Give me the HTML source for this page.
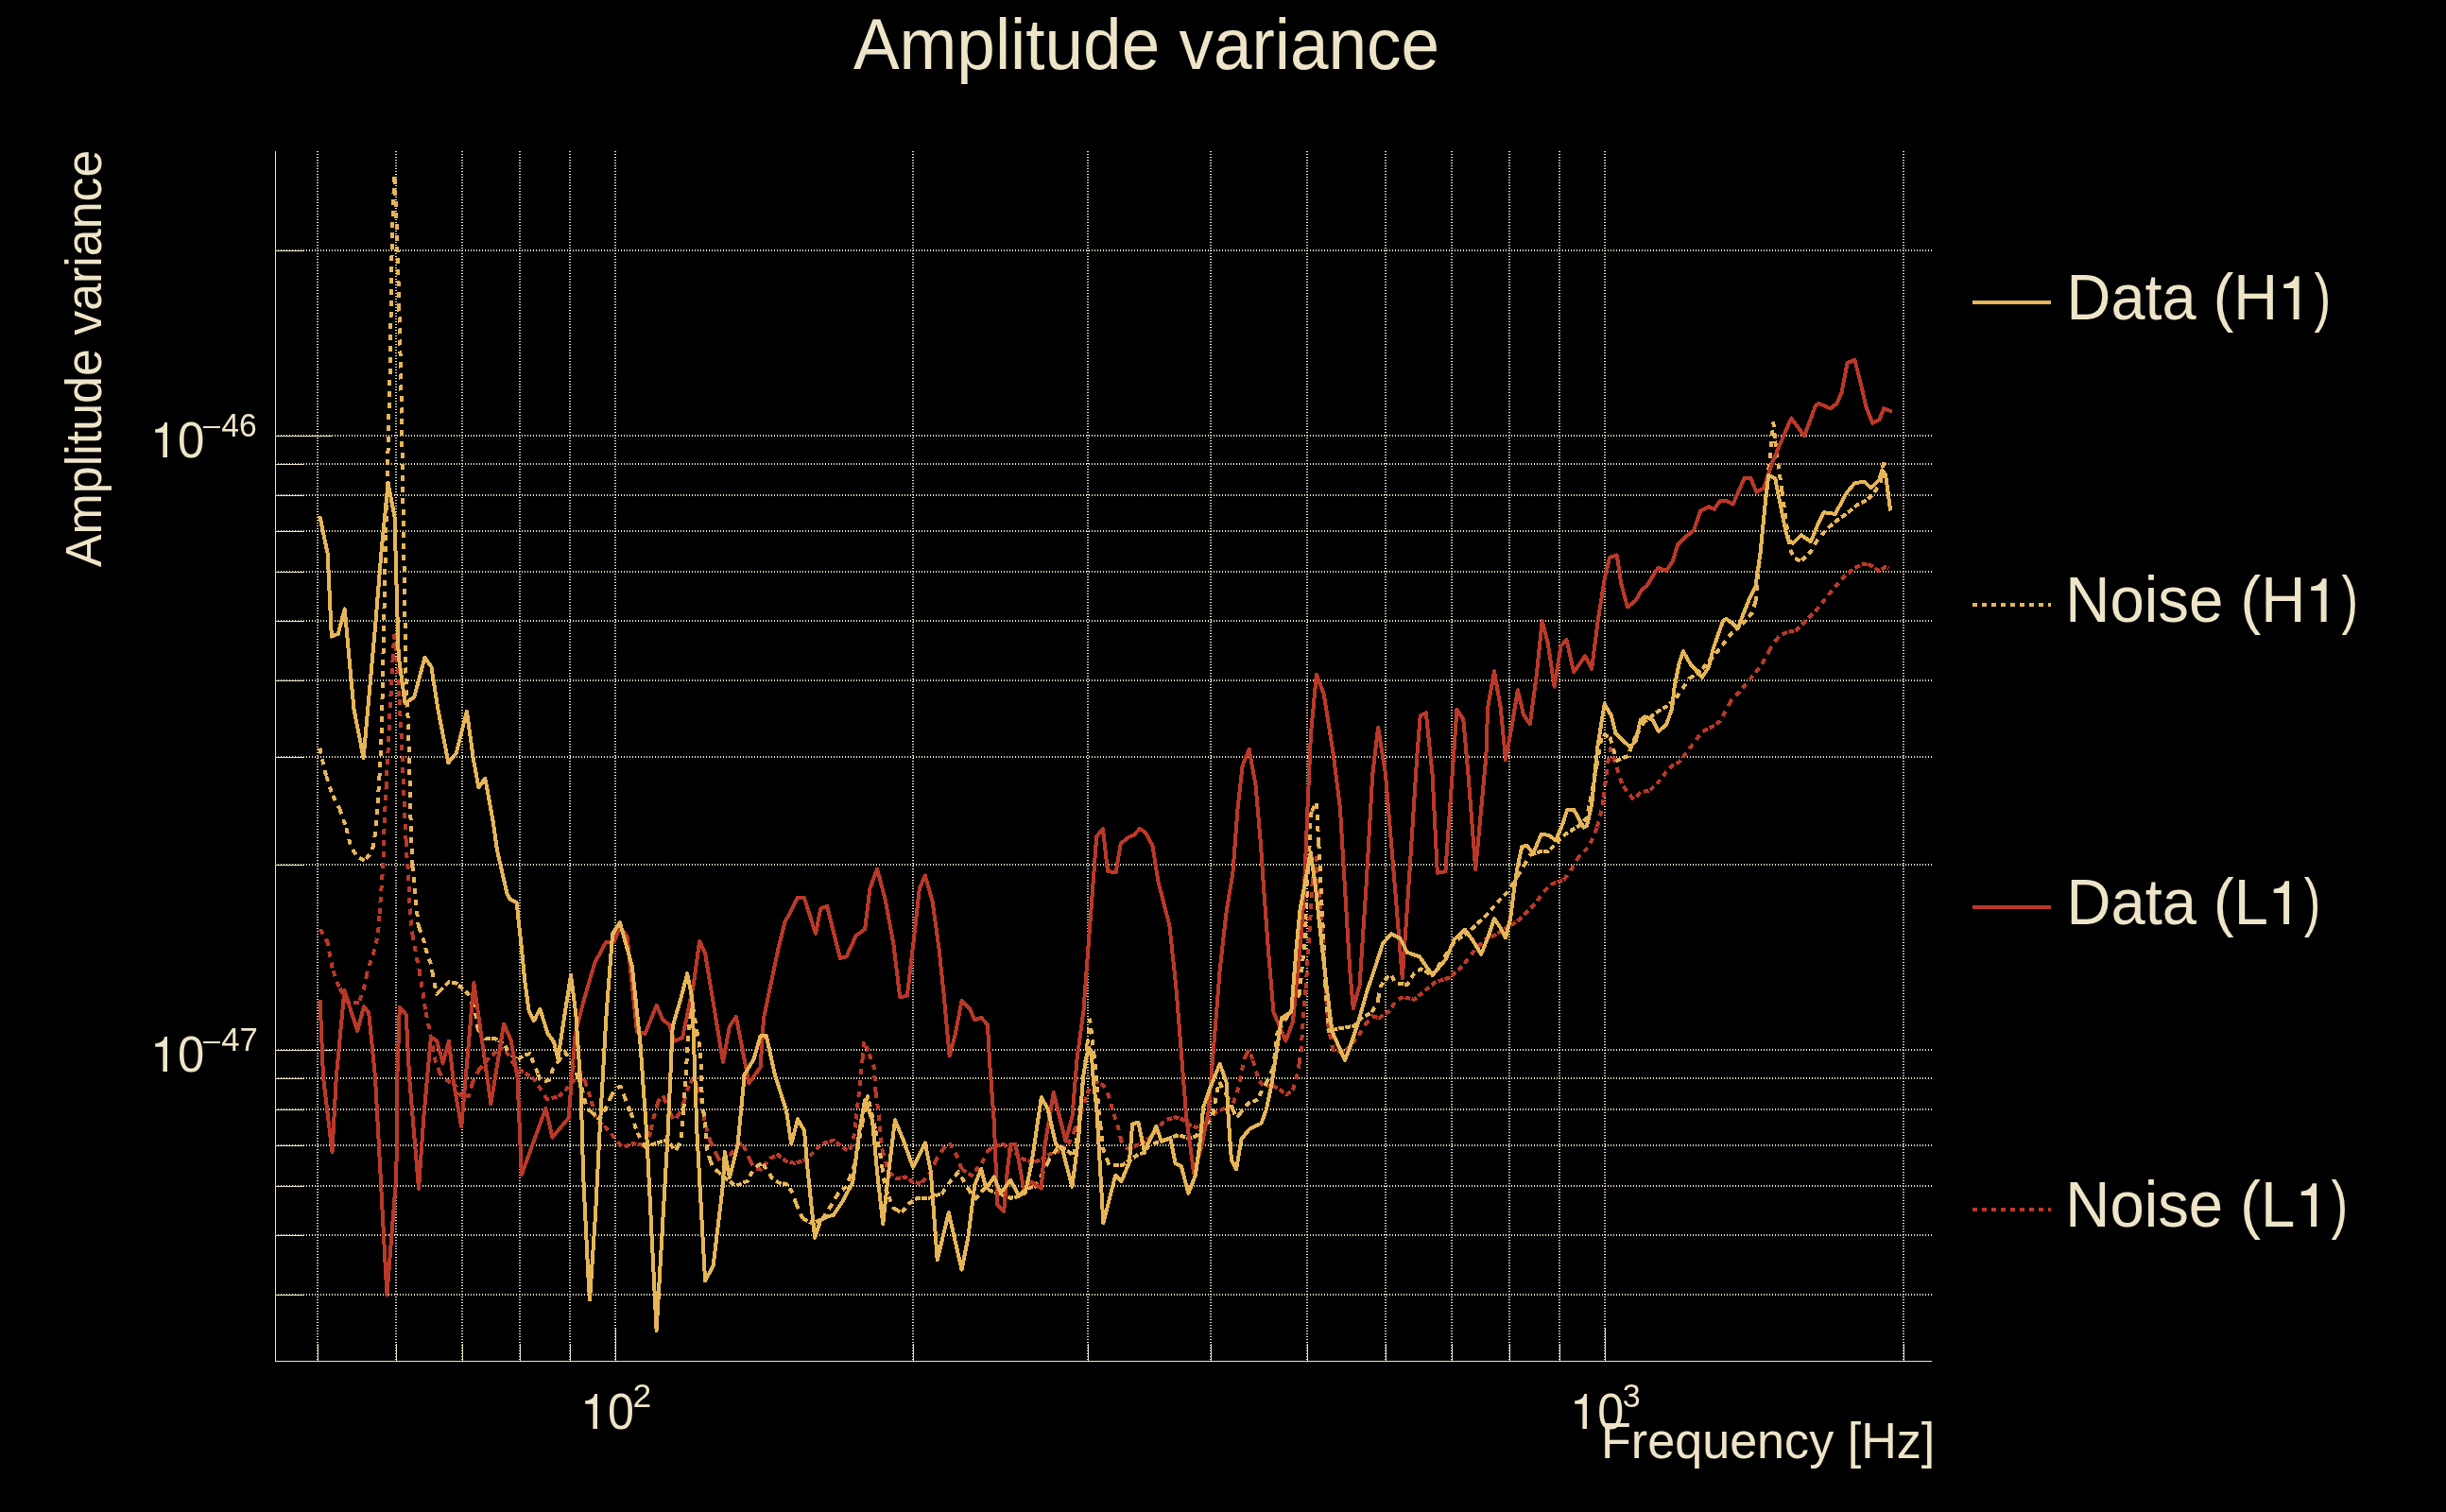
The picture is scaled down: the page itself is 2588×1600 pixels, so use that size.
<!DOCTYPE html>
<html><head><meta charset="utf-8"><style>
html,body{margin:0;padding:0;background:#000;width:2588px;height:1600px;overflow:hidden}
svg{display:block;will-change:transform}
</style></head><body>
<svg xmlns="http://www.w3.org/2000/svg" width="2588" height="1600" viewBox="0 0 2588 1600">
<rect width="2588" height="1600" fill="#000"/>
<g stroke="#EEE4C8" stroke-width="2" stroke-dasharray="1 2" shape-rendering="crispEdges"><line x1="336" y1="160" x2="336" y2="1440"/><line x1="419" y1="160" x2="419" y2="1440"/><line x1="489" y1="160" x2="489" y2="1440"/><line x1="550" y1="160" x2="550" y2="1440"/><line x1="603" y1="160" x2="603" y2="1440"/><line x1="651" y1="160" x2="651" y2="1440"/><line x1="966" y1="160" x2="966" y2="1440"/><line x1="1151" y1="160" x2="1151" y2="1440"/><line x1="1281" y1="160" x2="1281" y2="1440"/><line x1="1383" y1="160" x2="1383" y2="1440"/><line x1="1466" y1="160" x2="1466" y2="1440"/><line x1="1536" y1="160" x2="1536" y2="1440"/><line x1="1597" y1="160" x2="1597" y2="1440"/><line x1="1650" y1="160" x2="1650" y2="1440"/><line x1="1698" y1="160" x2="1698" y2="1440"/><line x1="2014" y1="160" x2="2014" y2="1440"/><line x1="291" y1="1370" x2="2044" y2="1370"/><line x1="291" y1="1307" x2="2044" y2="1307"/><line x1="291" y1="1255" x2="2044" y2="1255"/><line x1="291" y1="1212" x2="2044" y2="1212"/><line x1="291" y1="1174" x2="2044" y2="1174"/><line x1="291" y1="1141" x2="2044" y2="1141"/><line x1="291" y1="1111" x2="2044" y2="1111"/><line x1="291" y1="915" x2="2044" y2="915"/><line x1="291" y1="801" x2="2044" y2="801"/><line x1="291" y1="720" x2="2044" y2="720"/><line x1="291" y1="657" x2="2044" y2="657"/><line x1="291" y1="605" x2="2044" y2="605"/><line x1="291" y1="562" x2="2044" y2="562"/><line x1="291" y1="524" x2="2044" y2="524"/><line x1="291" y1="491" x2="2044" y2="491"/><line x1="291" y1="461" x2="2044" y2="461"/><line x1="291" y1="265" x2="2044" y2="265"/></g><g stroke="#EEE4C8" stroke-width="1" shape-rendering="crispEdges"><line x1="291.5" y1="160" x2="291.5" y2="1441"/><line x1="291" y1="1440.5" x2="2044" y2="1440.5"/><line x1="291" y1="1370.5" x2="321" y2="1370.5"/><line x1="291" y1="1307.5" x2="321" y2="1307.5"/><line x1="291" y1="1255.5" x2="321" y2="1255.5"/><line x1="291" y1="1212.5" x2="321" y2="1212.5"/><line x1="291" y1="1174.5" x2="321" y2="1174.5"/><line x1="291" y1="1141.5" x2="321" y2="1141.5"/><line x1="291" y1="1111.5" x2="351" y2="1111.5"/><line x1="291" y1="915.5" x2="321" y2="915.5"/><line x1="291" y1="801.5" x2="321" y2="801.5"/><line x1="291" y1="720.5" x2="321" y2="720.5"/><line x1="291" y1="657.5" x2="321" y2="657.5"/><line x1="291" y1="605.5" x2="321" y2="605.5"/><line x1="291" y1="562.5" x2="321" y2="562.5"/><line x1="291" y1="524.5" x2="321" y2="524.5"/><line x1="291" y1="491.5" x2="321" y2="491.5"/><line x1="291" y1="461.5" x2="351" y2="461.5"/><line x1="291" y1="265.5" x2="321" y2="265.5"/><line x1="336.5" y1="1440" x2="336.5" y2="1422"/><line x1="419.5" y1="1440" x2="419.5" y2="1422"/><line x1="489.5" y1="1440" x2="489.5" y2="1422"/><line x1="550.5" y1="1440" x2="550.5" y2="1422"/><line x1="603.5" y1="1440" x2="603.5" y2="1422"/><line x1="651.5" y1="1440" x2="651.5" y2="1405"/><line x1="966.5" y1="1440" x2="966.5" y2="1422"/><line x1="1151.5" y1="1440" x2="1151.5" y2="1422"/><line x1="1281.5" y1="1440" x2="1281.5" y2="1422"/><line x1="1383.5" y1="1440" x2="1383.5" y2="1422"/><line x1="1466.5" y1="1440" x2="1466.5" y2="1422"/><line x1="1536.5" y1="1440" x2="1536.5" y2="1422"/><line x1="1597.5" y1="1440" x2="1597.5" y2="1422"/><line x1="1650.5" y1="1440" x2="1650.5" y2="1422"/><line x1="1698.5" y1="1440" x2="1698.5" y2="1405"/><line x1="2014.5" y1="1440" x2="2014.5" y2="1422"/></g><g fill="none" stroke-width="4" stroke-linejoin="round" shape-rendering="crispEdges"><path d="M338.6 983.4L345.6 995.1M345.6 995.1L346.3 996.3L348.9 1010.0L351.5 1023.8L352.6 1027.3M352.6 1027.3L355.8 1037.5L359.6 1045.9M359.6 1045.9L360.1 1047.0L366.6 1058.5M366.6 1058.5L368.0 1061.0L373.6 1060.9M373.6 1060.9L379.9 1060.7L380.6 1058.7M380.6 1058.7L385.0 1046.0L387.6 1033.6M387.6 1033.6L389.3 1025.5L393.6 1013.5L394.6 1010.1M394.6 1010.1L397.9 998.8L400.5 982.5L401.6 967.0M401.6 967.0L402.2 958.5L403.9 934.4L405.2 917.0L407.0 864.2L408.6 832.9M408.6 832.9L409.7 811.3L412.3 758.4L415.0 708.0L415.6 697.8M415.6 697.8L417.1 672.4L420.3 700.2L422.6 740.0M422.6 740.0L422.9 745.2L425.6 798.0L427.7 851.0L429.6 889.7M429.6 889.7L430.3 904.0L432.3 925.8L433.1 949.9L434.9 974.0L436.6 989.4M436.6 989.4L438.3 999.7L440.9 1013.5L443.2 1024.2L443.6 1026.8M443.6 1026.8L445.3 1038.0L447.4 1049.6L449.0 1062.3L450.6 1071.2M450.6 1071.2L451.1 1074.0L453.8 1086.7L457.6 1106.8M457.6 1106.8L461.2 1125.8L464.6 1133.2M464.6 1133.2L467.5 1139.6L471.6 1142.3M471.6 1142.3L473.9 1143.8L478.6 1146.8M478.6 1146.8L482.3 1149.1L485.6 1156.4M485.6 1156.4L486.6 1158.6L492.6 1159.3M492.6 1159.3L496.1 1159.7L499.6 1147.4M499.6 1147.4L500.3 1144.9L506.6 1132.4M506.6 1132.4L506.7 1132.2L513.6 1124.0M513.6 1124.0L518.3 1118.4L520.6 1116.5M520.6 1116.5L527.6 1110.8M527.6 1110.8L530.0 1108.9L534.6 1112.8M534.6 1112.8L537.4 1115.2L541.6 1122.6M541.6 1122.6L545.8 1130.0L548.6 1131.6M548.6 1131.6L555.3 1135.3L555.6 1135.5M555.6 1135.5L562.6 1140.2M562.6 1140.2L564.9 1141.7L569.6 1148.8M569.6 1148.8L571.2 1151.2L576.6 1159.7M576.6 1159.7L578.6 1162.9L583.6 1162.0M583.6 1162.0L590.3 1160.7L590.6 1160.4M590.6 1160.4L597.6 1154.3M597.6 1154.3L598.7 1153.3L604.6 1146.2M604.6 1146.2L611.6 1137.9M611.6 1137.9L614.6 1134.3L618.6 1143.9M618.6 1143.9L619.9 1147.0L624.1 1159.7L625.6 1165.1M625.6 1165.1L627.5 1172.0L630.9 1185.8L632.6 1186.9M632.6 1186.9L639.5 1191.3L639.6 1191.4M639.6 1191.4L646.6 1199.5M646.6 1199.5L649.9 1203.3L653.6 1208.2M653.6 1208.2L658.4 1214.5L660.6 1213.6M660.6 1213.6L667.6 1210.7M667.6 1210.7L668.8 1210.2L674.6 1210.7M674.6 1210.7L677.4 1211.0L681.6 1213.1M681.6 1213.1L682.5 1213.6L687.7 1199.9L688.6 1195.8M688.6 1195.8L691.1 1184.4L695.6 1168.0M695.6 1168.0L696.3 1165.5L701.4 1158.6L702.6 1161.8M702.6 1161.8L706.6 1172.3L709.6 1178.3M709.6 1178.3L713.5 1186.1L716.6 1181.4M716.6 1181.4L720.3 1175.8L723.6 1166.1M723.6 1166.1L723.8 1165.5L727.2 1153.4L730.6 1146.5M730.6 1146.5L734.1 1139.4L737.6 1150.7M737.6 1150.7L742.7 1167.2L744.6 1179.7M744.6 1179.7L746.1 1189.5L751.3 1206.7L751.6 1207.4M751.6 1207.4L758.2 1222.2L758.6 1222.9M758.6 1222.9L765.0 1234.2L765.6 1233.3M765.6 1233.3L771.9 1223.9L772.6 1222.7M772.6 1222.7L778.8 1211.9L779.6 1211.7M779.6 1211.7L785.7 1210.2L786.6 1212.3M786.6 1212.3L790.8 1222.2L793.6 1227.8M793.6 1227.8L797.7 1236.0L800.6 1236.7M800.6 1236.7L804.6 1237.7L807.6 1234.2M807.6 1234.2L814.6 1226.0M814.6 1226.0L814.9 1225.6L821.6 1223.0M821.6 1223.0L823.5 1222.2L828.6 1226.3M828.6 1226.3L832.1 1229.1L835.6 1229.8M835.6 1229.8L840.7 1230.8L842.6 1230.3M842.6 1230.3L849.6 1228.3M849.6 1228.3L852.7 1227.4L856.6 1223.5M856.6 1223.5L861.3 1218.8L863.6 1216.5M863.6 1216.5L869.9 1210.2L870.6 1210.0M870.6 1210.0L877.6 1208.0M877.6 1208.0L881.9 1206.7L884.6 1208.7M884.6 1208.7L890.3 1212.8L891.6 1213.8M891.6 1213.8L897.2 1218.0L898.6 1216.1M898.6 1216.1L902.3 1211.1L904.1 1197.4L905.6 1184.5M905.6 1184.5L907.5 1168.1L911.8 1128.6L912.6 1120.4M912.6 1120.4L914.4 1101.8L919.6 1115.3M919.6 1115.3L924.7 1128.6L926.4 1154.4L926.6 1155.9M926.6 1155.9L929.9 1180.2L933.3 1216.3L933.6 1217.3M933.6 1217.3L940.2 1240.3L940.6 1240.6M940.6 1240.6L947.6 1246.2M947.6 1246.2L948.8 1247.2L954.6 1246.1M954.6 1246.1L957.4 1245.5L961.6 1248.0M961.6 1248.0L966.0 1250.7L968.6 1251.2M968.6 1251.2L974.5 1252.4L975.6 1251.1M975.6 1251.1L982.6 1243.0M982.6 1243.0L984.9 1240.3L989.6 1229.7M989.6 1229.7L991.7 1224.9L996.6 1218.0M996.6 1218.0L1000.3 1212.8L1003.6 1211.7M1003.6 1211.7L1005.5 1211.1L1010.6 1220.0M1010.6 1220.0L1012.4 1223.1L1017.5 1236.9L1017.6 1237.0M1017.6 1237.0L1024.6 1241.7M1024.6 1241.7L1027.8 1243.8L1031.6 1239.4M1031.6 1239.4L1038.2 1231.7L1038.6 1230.9M1038.6 1230.9L1045.0 1218.0L1045.6 1217.5M1045.6 1217.5L1051.9 1212.8L1052.6 1212.7M1052.6 1212.7L1059.6 1211.5M1059.6 1211.5L1062.2 1211.1L1066.6 1214.4M1066.6 1214.4L1073.6 1219.6M1073.6 1219.6L1080.6 1224.9M1080.6 1224.9L1082.9 1226.6L1087.6 1228.2M1087.6 1228.2L1093.2 1230.0L1094.6 1229.5M1094.6 1229.5L1101.6 1227.2M1101.6 1227.2L1103.5 1226.6L1108.6 1222.8M1108.6 1222.8L1110.4 1221.4L1115.6 1219.7M1115.6 1219.7L1120.7 1218.0L1122.6 1216.4M1122.6 1216.4L1129.6 1210.6M1129.6 1210.6L1131.0 1209.4L1136.6 1196.8M1136.6 1196.8L1137.9 1193.9L1143.6 1178.1M1143.6 1178.1L1144.7 1175.0L1150.6 1157.4M1150.6 1157.4L1151.6 1154.4L1157.6 1145.4M1157.6 1145.4L1158.5 1144.1L1164.6 1147.1M1164.6 1147.1L1167.4 1148.5L1171.6 1156.8M1171.6 1156.8L1172.7 1159.0L1178.6 1178.9M1178.6 1178.9L1179.0 1180.2L1183.3 1194.0L1185.6 1203.8M1185.6 1203.8L1186.5 1207.7L1192.6 1214.9M1192.6 1214.9L1192.8 1215.1L1199.6 1213.2M1199.6 1213.2L1200.2 1213.0L1206.6 1210.5M1206.6 1210.5L1210.8 1208.8L1213.6 1206.2M1213.6 1206.2L1220.6 1199.8M1220.6 1199.8L1223.5 1197.1L1227.6 1191.5M1227.6 1191.5L1232.0 1185.5L1234.6 1184.8M1234.6 1184.8L1241.6 1182.9M1241.6 1182.9L1243.6 1182.3L1248.6 1183.7M1248.6 1183.7L1251.0 1184.4L1255.6 1188.2M1255.6 1188.2L1257.4 1189.7L1262.6 1191.7M1262.6 1191.7L1265.8 1192.9L1269.6 1191.7M1269.6 1191.7L1272.2 1190.8L1276.6 1186.9M1276.6 1186.9L1281.7 1182.3L1283.6 1180.4M1283.6 1180.4L1287.0 1177.0L1290.6 1175.2M1290.6 1175.2L1295.4 1172.8L1297.6 1172.5M1297.6 1172.5L1302.9 1171.7L1304.6 1167.5M1304.6 1167.5L1308.1 1159.0L1310.3 1150.6L1311.6 1144.4M1311.6 1144.4L1313.0 1137.7L1316.4 1120.5L1318.6 1116.1M1318.6 1116.1L1321.6 1110.2L1325.6 1122.1M1325.6 1122.1L1326.8 1125.7L1331.9 1142.9L1332.6 1143.8M1332.6 1143.8L1337.1 1149.7L1339.6 1149.2M1339.6 1149.2L1345.7 1148.0L1346.6 1148.5M1346.6 1148.5L1353.6 1152.8M1353.6 1152.8L1354.3 1153.2L1360.6 1157.9M1360.6 1157.9L1361.1 1158.3L1367.6 1153.5M1367.6 1153.5L1368.0 1153.2L1373.2 1134.3L1374.6 1125.1M1374.6 1125.1L1376.6 1111.9L1378.3 1086.1L1381.6 1045.6M1381.6 1045.6L1381.8 1043.1L1385.0 992.6L1387.4 956.9L1388.6 934.3M1388.6 934.3L1392.7 908.1L1395.6 943.8M1395.6 943.8L1395.7 945.0L1398.1 974.8L1399.9 995.0L1401.9 1035.6L1402.6 1046.4M1402.6 1046.4L1403.7 1063.3L1405.6 1086.5L1408.3 1100.4L1409.6 1106.9M1409.6 1106.9L1411.1 1114.3L1416.6 1113.1M1416.6 1113.1L1423.6 1111.6M1423.6 1111.6L1424.1 1111.5L1430.6 1104.0M1430.6 1104.0L1437.0 1096.7L1437.6 1095.7M1437.6 1095.7L1443.5 1085.6L1444.6 1084.3M1444.6 1084.3L1451.6 1075.8M1451.6 1075.8L1451.9 1075.4L1458.6 1077.0M1458.6 1077.0L1459.3 1077.2L1465.6 1073.0M1465.6 1073.0L1470.4 1069.8L1472.6 1066.0M1472.6 1066.0L1476.9 1058.7L1479.6 1057.5M1479.6 1057.5L1485.2 1055.0L1486.6 1055.4M1486.6 1055.4L1493.6 1057.1M1493.6 1057.1L1496.3 1057.8L1500.6 1054.2M1500.6 1054.2L1507.4 1048.5L1507.6 1048.3M1507.6 1048.3L1514.6 1042.5M1514.6 1042.5L1518.5 1039.3L1521.6 1038.3M1521.6 1038.3L1528.6 1036.1M1528.6 1036.1L1533.3 1034.6L1535.6 1032.6M1535.6 1032.6L1542.6 1026.5M1542.6 1026.5L1548.1 1021.7L1549.6 1019.7M1549.6 1019.7L1556.6 1010.1M1556.6 1010.1L1558.3 1007.8L1563.6 1002.0M1563.6 1002.0L1570.6 994.4M1570.6 994.4L1570.7 994.3L1577.6 991.3M1577.6 991.3L1582.7 989.1L1584.6 987.8M1584.6 987.8L1591.6 983.1M1591.6 983.1L1593.0 982.2L1598.6 979.0M1598.6 979.0L1605.0 975.3L1605.6 974.7M1605.6 974.7L1612.6 967.7M1612.6 967.7L1615.3 965.0L1619.6 960.7M1619.6 960.7L1625.7 954.7L1626.6 953.3M1626.6 953.3L1632.5 944.4L1633.6 943.3M1633.6 943.3L1640.6 936.3M1640.6 936.3L1641.1 935.8L1647.6 933.4M1647.6 933.4L1654.6 930.8M1654.6 930.8L1654.9 930.7L1661.6 921.3M1661.6 921.3L1663.5 918.6L1668.6 909.7M1668.6 909.7L1670.4 906.6L1675.6 901.4M1675.6 901.4L1680.7 896.3L1682.6 892.5M1682.6 892.5L1685.8 886.0L1689.6 875.1M1689.6 875.1L1691.7 869.0L1695.2 854.8L1696.6 843.7M1696.6 843.7L1698.2 831.0L1701.2 807.1L1703.6 795.3M1703.6 795.3L1704.2 792.3L1710.6 812.1M1710.6 812.1L1716.7 831.0L1717.6 832.2M1717.6 832.2L1724.6 841.2M1724.6 841.2L1728.6 846.4L1731.6 842.9M1731.6 842.9L1735.7 838.1L1738.6 837.7M1738.6 837.7L1745.2 836.9L1745.6 836.5M1745.6 836.5L1752.6 829.6M1752.6 829.6L1754.8 827.4L1759.6 821.2M1759.6 821.2L1763.1 816.7L1766.6 813.1M1766.6 813.1L1769.9 809.7L1773.6 807.9M1773.6 807.9L1776.7 806.3L1780.6 801.4M1780.6 801.4L1786.2 794.3L1787.6 792.4M1787.6 792.4L1793.1 784.8L1794.6 782.8M1794.6 782.8L1800.8 774.5L1801.6 774.1M1801.6 774.1L1808.6 770.6M1808.6 770.6L1811.1 769.3L1815.6 766.2M1815.6 766.2L1819.7 763.3L1822.6 757.9M1822.6 757.9L1825.7 752.1L1829.6 744.9M1829.6 744.9L1831.7 741.0L1836.6 736.1M1836.6 736.1L1840.3 732.4L1843.6 728.3M1843.6 728.3L1850.6 719.6M1850.6 719.6L1850.7 719.5L1857.5 711.7L1857.6 711.6M1857.6 711.6L1864.4 703.1L1864.6 702.7M1864.6 702.7L1869.6 692.8L1871.6 689.3M1871.6 689.3L1876.4 680.8L1878.6 678.1M1878.6 678.1L1883.3 672.2L1885.6 671.3M1885.6 671.3L1891.9 668.8L1892.6 668.7M1892.6 668.7L1899.6 667.2M1899.6 667.2L1900.5 667.0L1906.6 660.9M1906.6 660.9L1909.1 658.4L1913.6 653.9M1913.6 653.9L1920.6 646.9M1920.6 646.9L1921.1 646.4L1927.6 638.3M1927.6 638.3L1928.0 637.8L1934.6 629.6M1934.6 629.6L1934.9 629.2L1941.6 621.2M1941.6 621.2L1943.5 618.9L1948.6 613.2M1948.6 613.2L1952.1 609.3L1955.6 606.5M1955.6 606.5L1960.7 602.4L1962.6 601.3M1962.6 601.3L1969.3 597.2L1969.6 597.2M1969.6 597.2L1976.1 596.4L1976.6 596.7M1976.6 596.7L1983.0 600.7L1983.6 601.1M1983.6 601.1L1988.2 604.1L1990.6 602.6M1990.6 602.6L1995.1 599.8L1997.6 600.5M1997.6 600.5L1998.5 600.7" stroke="#BA3828" stroke-dasharray="6 6"/><path d="M338.3 791.7L343.9 816.7L345.3 821.2M345.3 821.2L350.8 838.9L352.3 841.9M352.3 841.9L359.2 855.6L359.3 855.9M359.3 855.9L366.0 875.0L366.3 876.2M366.3 876.2L371.3 896.0L373.3 899.2M373.3 899.2L378.0 906.6L380.3 907.7M380.3 907.7L385.9 910.5L387.3 908.8M387.3 908.8L393.8 901.0L394.3 898.0M394.3 898.0L397.8 877.0L400.4 838.0L401.3 824.2M401.3 824.2L403.0 798.0L404.4 745.0L407.0 620.0L408.3 564.3M408.3 564.3L408.4 560.0L410.0 500.0L411.4 437.8L412.5 400.0L413.6 330.0L414.6 265.0L415.3 240.9M415.3 240.9L416.2 210.0L417.5 185.0L418.6 210.0L420.5 265.0L422.3 323.5M422.3 323.5L422.5 330.0L424.1 400.0L425.0 437.8L425.8 493.3L426.9 560.0L429.3 706.5M429.3 706.5L429.5 718.7L432.2 771.6L433.5 824.6L434.8 877.5L436.1 914.5L436.3 916.0M436.3 916.0L437.4 924.0L439.2 949.9L440.9 961.9L442.6 979.0L443.3 981.0M443.3 981.0L448.6 996.3L450.3 1003.0M450.3 1003.0L452.1 1010.0L455.9 1020.0L457.3 1028.1M457.3 1028.1L459.0 1038.0L462.2 1051.7L464.3 1049.6M464.3 1049.6L471.3 1042.6M471.3 1042.6L474.9 1039.0L478.3 1039.5M478.3 1039.5L482.3 1040.1L485.3 1042.7M485.3 1042.7L489.7 1046.5L492.3 1049.1M492.3 1049.1L495.0 1051.7L499.3 1060.9M499.3 1060.9L502.4 1067.6L505.6 1088.8L506.3 1089.7M506.3 1089.7L513.3 1098.4M513.3 1098.4L514.1 1099.4L520.3 1099.4M520.3 1099.4L524.7 1099.4L527.3 1101.0M527.3 1101.0L533.1 1104.7L534.3 1106.7M534.3 1106.7L539.5 1115.2L541.3 1116.6M541.3 1116.6L548.0 1121.6L548.3 1121.3M548.3 1121.3L554.3 1116.3L555.3 1116.1M555.3 1116.1L560.6 1115.2L562.3 1119.3M562.3 1119.3L565.9 1127.9L569.3 1136.8M569.3 1136.8L571.2 1141.7L576.3 1143.4M576.3 1143.4L577.6 1143.8L580.7 1142.8L583.3 1135.7M583.3 1135.7L585.0 1131.1L590.3 1123.6M590.3 1123.6L597.3 1113.7M597.3 1113.7L597.7 1113.1L603.0 1121.6L604.3 1124.2M604.3 1124.2L609.3 1134.3L611.3 1139.1M611.3 1139.1L614.6 1147.0L618.3 1162.6M618.3 1162.6L620.6 1172.3L625.3 1176.4M625.3 1176.4L632.3 1182.6M632.3 1182.6L634.4 1184.4L639.3 1175.8M639.3 1175.8L641.3 1172.3L645.6 1162.0L646.3 1160.8M646.3 1160.8L651.6 1151.7L653.3 1151.0M653.3 1151.0L656.7 1149.7L660.3 1159.5M660.3 1159.5L661.9 1163.8L667.3 1177.3M667.3 1177.3L668.8 1181.0L673.9 1198.1L674.3 1198.8M674.3 1198.8L681.3 1211.4M681.3 1211.4L682.5 1213.6L688.3 1211.7M688.3 1211.7L692.8 1210.2L695.3 1209.4M695.3 1209.4L702.3 1207.0M702.3 1207.0L703.1 1206.7L708.3 1208.4L709.3 1210.1M709.3 1210.1L714.3 1218.8L716.3 1214.8M716.3 1214.8L720.3 1206.7L722.1 1189.5L723.3 1173.8M723.3 1173.8L723.8 1167.2L727.2 1112.0L730.3 1072.3M730.3 1072.3L731.5 1056.9L737.3 1090.5M737.3 1090.5L741.0 1112.0L742.7 1160.0L744.3 1175.5M744.3 1175.5L746.1 1193.0L747.8 1215.3L751.3 1227.4M751.3 1227.4L753.9 1234.2L758.3 1238.5M758.3 1238.5L765.0 1245.0L765.3 1245.2M765.3 1245.2L772.3 1250.2M772.3 1250.2L778.8 1254.9L779.3 1254.7M779.3 1254.7L786.3 1251.7M786.3 1251.7L790.8 1249.7L793.3 1244.7M793.3 1244.7L797.7 1236.0L800.3 1234.4M800.3 1234.4L806.3 1230.8L807.3 1232.2M807.3 1232.2L811.4 1237.7L814.3 1242.5M814.3 1242.5L816.6 1246.3L821.3 1249.8M821.3 1249.8L823.5 1251.4L828.3 1252.3M828.3 1252.3L832.1 1253.1L835.3 1257.4M835.3 1257.4L837.2 1260.0L842.3 1273.5M842.3 1273.5L842.4 1273.8L849.3 1289.2M849.3 1289.2L856.3 1293.0M856.3 1293.0L860.0 1295.0L863.3 1293.3M863.3 1293.3L870.0 1290.0L870.3 1289.5M870.3 1289.5L877.3 1278.8M877.3 1278.8L880.0 1274.7L884.3 1267.2M884.3 1267.2L886.9 1262.7L891.3 1259.2M891.3 1259.2L895.5 1255.8L898.3 1248.2M898.3 1248.2L905.0 1230.0L905.3 1228.3M905.3 1228.3L912.0 1190.0L912.3 1188.5M912.3 1188.5L918.0 1160.0L919.3 1165.4M919.3 1165.4L924.0 1185.0L926.3 1196.5M926.3 1196.5L931.6 1223.1L933.3 1234.6M933.3 1234.6L936.7 1257.5L940.3 1266.2M940.3 1266.2L945.3 1278.2L947.3 1279.4M947.3 1279.4L953.9 1283.3L954.3 1282.8M954.3 1282.8L961.3 1274.4M961.3 1274.4L962.5 1273.0L968.3 1269.5M968.3 1269.5L971.1 1267.8L975.3 1267.8M975.3 1267.8L982.3 1267.8M982.3 1267.8L983.1 1267.8L989.3 1265.5M989.3 1265.5L996.3 1262.9M996.3 1262.9L996.9 1262.7L1003.3 1253.1M1003.3 1253.1L1003.8 1252.4L1010.3 1244.8M1010.3 1244.8L1014.1 1240.3L1017.3 1245.8M1017.3 1245.8L1024.3 1257.7M1024.3 1257.7L1031.3 1269.6M1031.3 1269.6L1038.3 1261.4M1038.3 1261.4L1041.6 1257.5L1045.3 1258.9M1045.3 1258.9L1052.3 1261.5M1052.3 1261.5L1059.3 1264.1M1059.3 1264.1L1066.3 1266.8M1066.3 1266.8L1069.1 1267.8L1073.3 1267.0M1073.3 1267.0L1077.7 1266.1L1080.3 1263.5M1080.3 1263.5L1086.3 1257.5L1087.3 1257.3M1087.3 1257.3L1094.3 1255.9M1094.3 1255.9L1094.9 1255.8L1101.3 1244.7M1101.3 1244.7L1101.8 1243.8L1108.3 1230.8M1108.3 1230.8L1110.4 1226.6L1115.3 1220.0M1115.3 1220.0L1120.7 1212.8L1122.3 1213.6M1122.3 1213.6L1127.5 1216.3L1129.3 1217.7M1129.3 1217.7L1136.1 1223.1L1136.3 1221.9M1136.3 1221.9L1141.3 1192.2L1143.3 1172.1M1143.3 1172.1L1146.5 1140.0L1150.3 1106.1M1150.3 1106.1L1153.3 1079.4L1157.3 1114.5M1157.3 1114.5L1160.2 1140.0L1162.0 1171.6L1164.3 1190.1M1164.3 1190.1L1165.3 1198.2L1167.4 1216.2L1171.3 1227.0M1171.3 1227.0L1171.6 1227.8L1173.8 1233.1L1178.3 1233.1M1178.3 1233.1L1181.2 1233.1L1185.3 1233.1M1185.3 1233.1L1187.5 1233.1L1192.3 1229.8M1192.3 1229.8L1199.3 1225.0M1199.3 1225.0L1204.4 1221.5L1206.3 1221.0M1206.3 1221.0L1211.9 1219.4L1213.3 1216.1M1213.3 1216.1L1215.0 1212.0L1220.3 1210.2M1220.3 1210.2L1227.3 1207.9M1227.3 1207.9L1234.1 1205.6L1234.3 1205.5M1234.3 1205.5L1240.4 1203.5L1241.3 1203.1M1241.3 1203.1L1244.7 1201.4L1248.3 1202.0M1248.3 1202.0L1251.0 1202.4L1255.3 1203.7M1255.3 1203.7L1258.4 1204.6L1262.3 1203.3M1262.3 1203.3L1264.8 1202.4L1269.3 1197.9M1269.3 1197.9L1270.1 1197.1L1276.3 1189.9M1276.3 1189.9L1282.8 1182.3L1283.3 1179.5M1283.3 1179.5L1284.9 1170.7L1287.0 1158.0L1289.8 1144.6L1290.3 1145.5M1290.3 1145.5L1297.3 1158.2M1297.3 1158.2L1300.7 1164.3L1304.3 1173.6M1304.3 1173.6L1308.1 1183.4L1311.3 1179.2M1311.3 1179.2L1314.5 1174.9L1318.3 1170.4M1318.3 1170.4L1320.8 1167.5L1325.3 1165.8M1325.3 1165.8L1329.3 1164.3L1332.3 1159.4M1332.3 1159.4L1338.0 1150.0L1339.3 1147.1M1339.3 1147.1L1346.3 1131.5M1346.3 1131.5L1347.4 1129.1L1350.8 1094.7L1353.3 1090.4M1353.3 1090.4L1360.3 1078.5M1360.3 1078.5L1362.9 1074.1L1367.3 1065.9M1367.3 1065.9L1374.3 1052.8M1374.3 1052.8L1374.9 1051.7L1378.3 1017.4L1380.8 992.6L1381.3 972.8M1381.3 972.8L1381.4 968.8L1385.6 893.8L1385.6 881.9L1387.4 860.5L1388.3 858.5M1388.3 858.5L1392.7 848.6L1395.3 891.9M1395.3 891.9L1395.7 898.6L1396.9 923.6L1398.1 948.6L1399.3 974.8L1400.5 995.0L1402.3 1040.6M1402.3 1040.6L1402.4 1043.1L1405.6 1091.1L1409.3 1090.2M1409.3 1090.2L1416.3 1088.4M1416.3 1088.4L1416.7 1088.3L1423.1 1087.4L1423.3 1087.4M1423.3 1087.4L1430.3 1086.0M1430.3 1086.0L1432.4 1085.6L1437.3 1080.7M1437.3 1080.7L1441.7 1076.3L1444.3 1075.0M1444.3 1075.0L1450.9 1071.7L1451.3 1071.1M1451.3 1071.1L1457.4 1061.5L1458.3 1056.6M1458.3 1056.6L1460.6 1044.1L1463.9 1039.3L1465.3 1037.5M1465.3 1037.5L1470.9 1030.4L1472.3 1032.7M1472.3 1032.7L1476.9 1040.2L1479.3 1040.6M1479.3 1040.6L1486.3 1041.6M1486.3 1041.6L1488.9 1042.0L1493.3 1034.9M1493.3 1034.9L1496.3 1030.0L1500.3 1027.5M1500.3 1027.5L1503.7 1025.4L1507.3 1027.4M1507.3 1027.4L1514.3 1031.4M1514.3 1031.4L1515.6 1032.1L1521.3 1023.3M1521.3 1023.3L1528.3 1012.6M1528.3 1012.6L1535.3 1001.8M1535.3 1001.8L1538.9 996.3L1542.3 994.0M1542.3 994.0L1549.1 989.3L1549.3 989.1M1549.3 989.1L1556.3 983.6M1556.3 983.6L1560.3 980.5L1563.3 977.5M1563.3 977.5L1570.3 970.6M1570.3 970.6L1574.1 966.8L1577.3 963.1M1577.3 963.1L1584.3 955.1M1584.3 955.1L1586.1 953.0L1591.3 947.8M1591.3 947.8L1594.7 944.4L1598.3 938.6M1598.3 938.6L1605.3 927.5M1605.3 927.5L1611.9 916.9L1612.3 916.2M1612.3 916.2L1618.8 904.9L1619.3 904.7M1619.3 904.7L1626.3 902.4M1626.3 902.4L1629.1 901.4L1633.3 901.4M1633.3 901.4L1637.7 901.4L1640.3 898.8M1640.3 898.8L1647.3 891.8M1647.3 891.8L1654.3 884.8M1654.3 884.8L1656.6 882.5L1661.3 879.6M1661.3 879.6L1668.3 875.2M1668.3 875.2L1670.4 873.9L1675.3 869.0M1675.3 869.0L1679.0 865.3L1682.3 848.7M1682.3 848.7L1686.0 830.0L1689.3 810.7M1689.3 810.7L1695.2 776.2L1696.3 776.8M1696.3 776.8L1703.3 780.8M1703.3 780.8L1703.6 781.0L1710.3 803.5M1710.3 803.5L1710.7 804.8L1717.3 802.1M1717.3 802.1L1722.6 800.0L1724.3 795.4M1724.3 795.4L1730.0 780.0L1731.3 777.8M1731.3 777.8L1738.3 766.0M1738.3 766.0L1739.3 764.3L1745.3 759.7M1745.3 759.7L1752.3 754.3M1752.3 754.3L1754.8 752.4L1759.3 749.9M1759.3 749.9L1763.0 747.8L1766.3 745.2M1766.3 745.2L1771.6 741.0L1773.3 738.6M1773.3 738.6L1780.2 728.9L1780.3 728.7M1780.3 728.7L1787.0 718.6L1787.3 718.4M1787.3 718.4L1794.3 713.2M1794.3 713.2L1800.8 708.3L1801.3 707.7M1801.3 707.7L1808.3 699.6M1808.3 699.6L1811.1 696.3L1815.3 691.4M1815.3 691.4L1821.4 684.2L1822.3 683.0M1822.3 683.0L1829.3 673.7M1829.3 673.7L1831.7 670.5L1836.3 666.4M1836.3 666.4L1843.3 660.2M1843.3 660.2L1847.2 656.7L1850.3 652.8M1850.3 652.8L1854.1 648.1L1857.3 636.8M1857.3 636.8L1857.5 636.1L1859.2 620.6L1864.3 567.3M1864.3 567.3L1865.0 560.0L1871.0 500.0L1871.3 497.1M1871.3 497.1L1876.4 447.7L1878.3 466.6M1878.3 466.6L1879.0 473.5L1885.3 519.0M1885.3 519.0L1885.9 523.3L1889.3 547.4L1892.3 570.1M1892.3 570.1L1893.6 580.0L1897.9 590.4L1899.3 591.0M1899.3 591.0L1905.7 593.8L1906.3 593.2M1906.3 593.2L1913.3 586.2M1913.3 586.2L1916.0 583.5L1920.3 576.0M1920.3 576.0L1922.9 571.4L1927.3 566.3M1927.3 566.3L1933.2 559.4L1934.3 558.5M1934.3 558.5L1941.3 552.6M1941.3 552.6L1943.5 550.8L1948.3 547.4M1948.3 547.4L1955.3 542.3M1955.3 542.3L1955.5 542.2L1962.3 536.5M1962.3 536.5L1965.8 533.6L1969.3 531.9M1969.3 531.9L1976.1 528.5L1976.3 528.3M1976.3 528.3L1983.0 521.6L1983.3 521.1M1983.3 521.1L1989.9 509.6L1990.3 507.0M1990.3 507.0L1993.3 487.2" stroke="#E6B656" stroke-dasharray="6 6"/><polyline points="338.6,1058.2 342.0,1140.0 351.5,1219.0 355.8,1140.0 364.4,1047.8 370.4,1066.8 378.1,1090.8 385.0,1065.0 390.2,1072.0 397.0,1140.0 409.4,1370.4 419.4,1243.0 420.3,1140.0 422.8,1065.9 429.7,1073.6 433.1,1140.0 443.0,1257.8 448.5,1180.0 455.9,1097.2 462.2,1101.5 468.6,1124.8 474.9,1101.5 480.2,1147.0 488.2,1192.4 501.4,1040.1 519.4,1168.1 533.1,1083.5 540.5,1100.4 547.5,1140.0 551.8,1243.1 577.5,1172.7 584.4,1203.6 601.6,1183.0 608.6,1094.7 617.2,1060.3 629.2,1019.1 641.3,996.7 649.9,996.7 655.9,980.4 663.6,991.6 673.9,1091.3 682.5,1093.9 694.6,1063.8 701.4,1079.2 708.3,1084.4 713.5,1101.6 722.1,1098.2 734.1,1039.7 740.1,995.9 746.1,1008.8 765.0,1124.0 771.9,1086.1 778.8,1075.8 792.5,1146.3 804.6,1129.1 808.0,1077.5 823.5,1003.6 830.4,976.1 844.1,949.5 851.0,950.3 863.0,988.1 868.2,961.5 875.1,958.9 888.8,1013.9 895.5,1012.4 905.8,990.0 915.2,983.1 920.4,940.2 928.1,919.5 936.7,952.2 945.3,998.6 952.2,1055.4 959.9,1053.6 967.7,986.6 972.8,940.2 978.8,926.4 986.6,953.9 993.5,1003.8 998.6,1051.9 1004.6,1117.2 1010.7,1094.9 1017.5,1058.8 1026.1,1067.4 1031.3,1079.4 1038.2,1076.8 1045.0,1084.6 1046.8,1120.0 1051.9,1188.8 1055.3,1274.7 1062.2,1281.6 1065.7,1240.3 1069.1,1211.1 1074.3,1211.1 1077.7,1226.6 1082.9,1257.5 1091.4,1250.7 1101.8,1257.5 1105.2,1214.5 1114.7,1156.1 1120.7,1180.2 1127.5,1207.7 1134.4,1181.9 1139.6,1120.0 1146.5,1069.1 1151.6,1000.3 1156.8,931.6 1160.2,885.2 1166.9,877.1 1172.0,921.8 1180.6,923.5 1185.8,892.5 1194.4,885.7 1199.5,883.9 1205.6,877.1 1211.6,880.5 1219.3,894.3 1225.3,932.1 1237.4,979.5 1244.2,1043.1 1251.1,1129.1 1255.2,1182.3 1259.5,1214.1 1263.2,1241.6 1271.1,1214.1 1278.5,1177.0 1283.8,1111.9 1290.7,1026.0 1297.5,965.8 1304.4,923.5 1309.6,854.7 1314.7,810.0 1321.6,792.8 1328.5,830.7 1333.6,889.1 1337.1,940.0 1342.2,1008.8 1347.4,1070.7 1360.3,1101.6 1368.0,1081.0 1376.6,991.6 1380.0,940.0 1383.5,854.7 1386.9,777.4 1392.9,713.8 1400.7,734.4 1411.0,799.7 1417.9,854.7 1423.0,940.0 1428.2,1026.0 1431.8,1067.0 1438.5,1043.1 1445.4,940.0 1452.2,820.3 1458.1,769.7 1465.8,817.9 1474.4,920.3 1483.8,1035.5 1491.6,920.3 1499.3,800.0 1502.7,757.7 1508.8,754.3 1515.6,820.0 1520.8,923.8 1529.4,922.1 1538.0,800.0 1541.4,750.8 1548.3,761.1 1553.5,820.0 1561.2,920.3 1572.4,800.0 1574.1,749.1 1581.0,710.4 1587.8,749.1 1593.0,804.1 1599.9,766.3 1605.9,730.2 1611.9,756.0 1618.8,766.3 1625.7,714.7 1631.7,657.1 1637.7,680.3 1644.6,726.8 1651.4,683.8 1657.5,676.9 1665.2,711.3 1677.2,694.1 1684.1,707.8 1691.0,654.6 1697.9,611.6 1703.0,590.1 1710.8,587.5 1715.1,616.7 1721.9,642.5 1730.5,635.6 1737.4,623.6 1742.3,620.0 1754.4,600.7 1763.0,604.1 1769.9,593.8 1775.0,576.6 1783.6,568.0 1792.2,561.1 1799.1,540.5 1807.7,536.2 1813.7,538.8 1819.7,530.2 1826.6,530.2 1833.5,533.6 1845.5,506.1 1852.4,506.1 1858.4,520.7 1866.1,516.4 1874.7,490.7 1883.3,470.0 1895.3,442.5 1909.1,461.4 1921.1,428.8 1924.6,427.0 1936.6,432.2 1943.5,427.0 1948.6,415.0 1954.6,384.1 1962.4,380.6 1969.3,408.1 1974.4,430.5 1981.3,447.7 1988.2,444.2 1993.3,432.2 2001.9,435.6" stroke="#BA3828"/><polyline points="338.3,545.8 346.7,586.0 350.8,673.6 357.8,670.8 364.7,644.4 374.4,750.0 384.6,802.0 396.7,666.7 403.6,583.0 410.6,511.0 417.5,547.0 418.9,597.0 421.7,694.0 428.6,744.4 438.3,737.5 449.4,695.8 456.4,705.6 463.3,750.0 474.4,807.0 482.8,797.0 493.9,752.8 500.8,802.8 506.4,833.3 513.3,823.6 521.7,869.4 526.0,900.0 536.3,944.7 539.7,951.6 546.6,955.0 551.8,1003.0 555.2,1037.5 559.6,1069.7 564.9,1080.3 571.2,1067.6 579.7,1094.0 586.0,1102.5 590.3,1120.5 604.0,1031.6 609.3,1072.9 614.6,1152.3 617.1,1243.0 622.2,1346.3 624.0,1375.5 630.0,1286.0 634.4,1200.0 641.3,1077.5 648.1,988.1 655.9,976.1 668.8,1022.5 677.4,1103.3 684.2,1200.0 694.6,1408.0 706.6,1200.0 711.7,1086.1 720.3,1056.9 727.2,1030.3 732.4,1056.9 737.5,1200.0 746.1,1355.4 754.7,1339.1 765.0,1253.1 766.8,1218.8 771.9,1246.3 780.5,1211.9 786.5,1150.0 787.4,1137.7 797.7,1120.5 804.6,1096.4 810.6,1095.6 820.0,1137.7 832.1,1175.8 837.2,1210.2 844.1,1184.4 851.0,1196.4 854.4,1236.0 857.9,1270.3 862.2,1309.9 868.2,1291.0 875.1,1287.5 881.9,1285.8 892.2,1270.3 902.3,1250.7 909.2,1197.4 915.2,1163.8 923.0,1185.3 928.1,1240.3 934.2,1295.3 940.2,1240.3 947.0,1185.3 955.6,1206.0 966.0,1235.2 978.8,1209.4 984.9,1240.3 991.7,1333.2 1003.8,1283.3 1017.5,1343.5 1024.4,1309.1 1031.3,1254.1 1038.2,1236.9 1043.3,1257.5 1051.9,1245.5 1058.8,1262.7 1069.1,1248.9 1077.7,1264.4 1084.6,1262.7 1091.4,1231.7 1101.8,1161.3 1108.6,1173.3 1117.2,1211.1 1124.1,1216.3 1134.4,1255.8 1141.3,1202.5 1146.0,1140.0 1150.0,1116.0 1152.5,1109.0 1155.0,1118.0 1157.0,1145.0 1160.2,1171.6 1167.4,1294.5 1180.1,1243.7 1186.5,1250.0 1194.9,1230.0 1198.1,1189.7 1204.4,1187.6 1210.8,1218.3 1223.5,1191.9 1228.8,1207.7 1238.3,1204.6 1243.6,1231.0 1249.9,1234.2 1257.4,1262.8 1264.8,1243.7 1269.0,1214.1 1273.2,1171.7 1280.3,1151.4 1290.7,1125.7 1297.6,1145.3 1299.7,1182.3 1302.9,1227.8 1308.1,1237.4 1313.4,1205.6 1321.9,1195.0 1334.6,1188.7 1339.9,1173.9 1345.7,1146.3 1350.8,1111.9 1356.0,1077.5 1366.3,1070.7 1371.4,1005.3 1375.5,962.9 1386.8,902.1 1392.1,940.0 1395.7,974.8 1402.0,1030.0 1409.3,1091.1 1423.0,1122.0 1427.8,1109.6 1437.0,1081.9 1446.3,1049.4 1455.6,1021.7 1463.0,998.5 1472.2,988.3 1481.5,993.0 1488.9,1007.8 1501.9,1012.4 1515.7,1031.9 1529.6,1015.2 1538.9,993.9 1550.0,983.7 1557.4,993.9 1567.2,1009.7 1574.1,992.5 1581.0,971.9 1587.8,982.2 1593.0,992.5 1598.2,971.9 1601.6,944.4 1605.0,920.3 1610.2,896.3 1615.3,894.6 1622.2,903.1 1630.8,882.5 1639.4,884.2 1646.3,889.4 1653.2,872.2 1658.3,856.7 1665.2,856.7 1675.5,875.6 1679.0,873.9 1684.1,851.6 1687.6,817.2 1690.5,789.3 1697.6,745.2 1704.8,757.1 1709.5,776.2 1716.7,783.3 1725.0,790.5 1731.0,783.3 1735.7,761.9 1740.5,758.3 1748.8,761.9 1754.8,773.8 1763.1,766.7 1769.0,750.0 1771.6,727.2 1776.7,701.4 1781.0,689.4 1788.8,703.1 1795.6,710.0 1800.8,716.9 1807.7,706.6 1812.8,686.0 1823.1,656.7 1826.6,655.0 1833.5,660.2 1838.6,665.3 1843.8,651.6 1850.7,634.4 1857.5,620.6 1862.7,583.5 1867.8,531.9 1871.3,502.7 1878.2,506.1 1883.3,531.9 1888.5,557.7 1891.9,571.4 1897.1,574.9 1905.7,566.3 1916.0,573.2 1922.9,556.0 1929.7,542.2 1941.8,543.9 1953.8,521.6 1962.4,511.3 1972.7,509.6 1979.6,516.4 1988.2,507.8 1991.6,497.5 1995.1,502.7 2000.2,540.5" stroke="#E6B656"/></g><g fill="#EEE4C8" font-family="Liberation Sans, sans-serif" style="font-kerning:none"><text x="902.96" y="72.8" font-size="76.5" textLength="620.18" lengthAdjust="spacingAndGlyphs">Amplitude variance</text><text transform="translate(106.9,600.10) rotate(-90)" x="0" y="0" font-size="53.5" textLength="441.51" lengthAdjust="spacingAndGlyphs">Amplitude variance</text><text x="1694.03" y="1542.8" font-size="53" textLength="353.29" lengthAdjust="spacingAndGlyphs">Frequency [Hz]</text><path d="M177.0 484V446.9H174.2C173.4 450.5 171.5 453.4 164.2 454.2V457.8H172.4V484Z"/><text x="188.01" y="484.1" font-size="54" textLength="28.39" lengthAdjust="spacingAndGlyphs">0</text><text x="234.23" y="461.5" font-size="35.5" textLength="37.45" lengthAdjust="spacingAndGlyphs">46</text><rect x="215" y="451" width="18" height="2"/><path d="M177.0 1134V1096.9H174.2C173.4 1100.5 171.5 1103.4 164.2 1104.2V1107.8H172.4V1134Z"/><text x="188.11" y="1134.1" font-size="54" textLength="28.27" lengthAdjust="spacingAndGlyphs">0</text><text x="234.20" y="1112.3" font-size="35.5" textLength="38.64" lengthAdjust="spacingAndGlyphs">47</text><rect x="215" y="1102" width="18" height="2"/><path d="M632.0 1512V1474.9H629.2C628.4 1478.5 626.5 1481.4 619.2 1482.2V1485.8H627.4V1512Z"/><text x="643.04" y="1512" font-size="54" textLength="27.92" lengthAdjust="spacingAndGlyphs">0</text><text x="669.42" y="1489" font-size="35" textLength="19.65" lengthAdjust="spacingAndGlyphs">2</text><path d="M1679.0 1512V1474.9H1676.2C1675.4 1478.5 1673.5 1481.4 1666.2 1482.2V1485.8H1674.4V1512Z"/><text x="1690.14" y="1512" font-size="54" textLength="27.92" lengthAdjust="spacingAndGlyphs">0</text><text x="1716.71" y="1489" font-size="35" textLength="18.89" lengthAdjust="spacingAndGlyphs">3</text><text x="2186.58" y="337.9" font-size="69" textLength="223.62" lengthAdjust="spacingAndGlyphs">Data (H</text><path d="M2432.6 338V292.2H2428.1C2427.1 296.5 2424.6 299.8 2416.2 300.7V305.0H2426.6V338Z"/><text x="2448.49" y="337.9" font-size="69" textLength="17.71" lengthAdjust="spacingAndGlyphs">)</text><text x="2185.24" y="657.9" font-size="69" textLength="254.19" lengthAdjust="spacingAndGlyphs">Noise (H</text><path d="M2461.6 658V612.2H2457.1C2456.1 616.5 2453.6 619.8 2445.2 620.7V625.0H2455.6V658Z"/><text x="2477.39" y="657.9" font-size="69" textLength="17.58" lengthAdjust="spacingAndGlyphs">)</text><text x="2186.56" y="977.9" font-size="69" textLength="213.40" lengthAdjust="spacingAndGlyphs">Data (L</text><path d="M2422.1 978V932.2H2417.6C2416.6 936.5 2414.1 939.8 2405.7 940.7V945.0H2416.1V978Z"/><text x="2437.69" y="977.9" font-size="69" textLength="17.58" lengthAdjust="spacingAndGlyphs">)</text><text x="2185.24" y="1297.9" font-size="69" textLength="243.12" lengthAdjust="spacingAndGlyphs">Noise (L</text><path d="M2451.1 1298V1252.2H2446.6C2445.6 1256.5 2443.1 1259.8 2434.7 1260.7V1265.0H2445.1V1298Z"/><text x="2466.59" y="1297.9" font-size="69" textLength="17.71" lengthAdjust="spacingAndGlyphs">)</text></g><g shape-rendering="crispEdges"><line x1="2087" y1="320" x2="2170" y2="320" stroke="#E6B656" stroke-width="4"/><line x1="2087" y1="640" x2="2170" y2="640" stroke="#E6B656" stroke-width="4" stroke-dasharray="5 5"/><line x1="2087" y1="960" x2="2170" y2="960" stroke="#BA3828" stroke-width="4"/><line x1="2087" y1="1280" x2="2170" y2="1280" stroke="#BA3828" stroke-width="4" stroke-dasharray="5 5"/></g>
</svg></body></html>
